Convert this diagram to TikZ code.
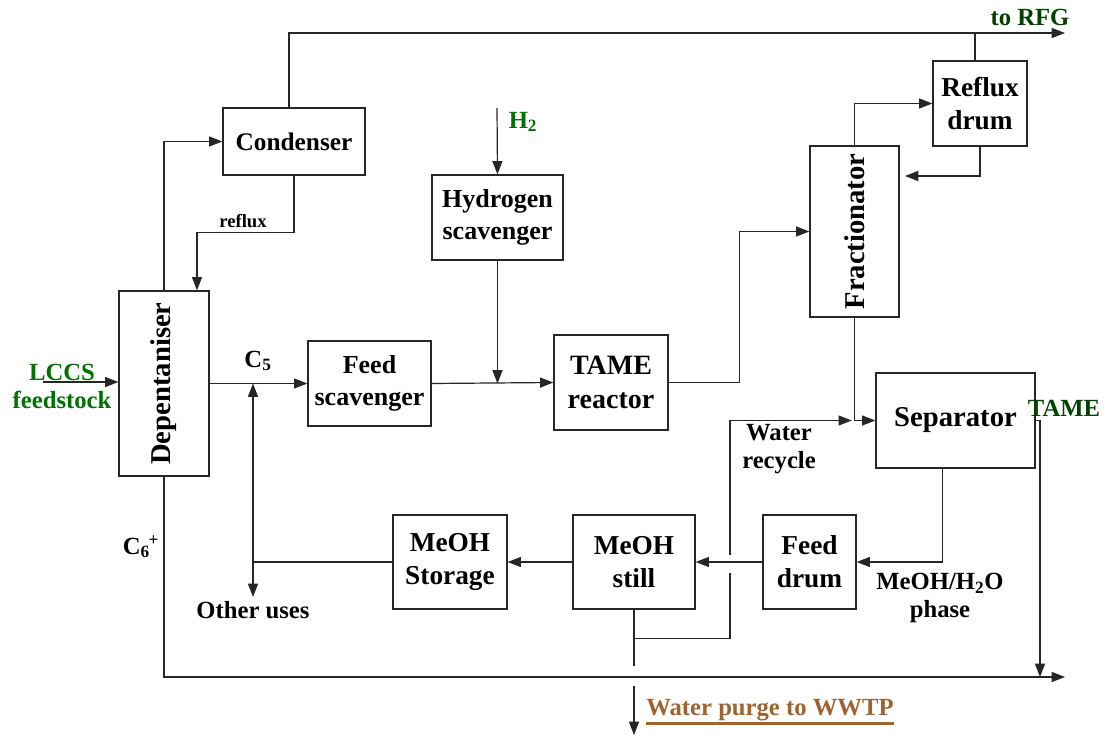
\documentclass[tikz,border=0pt]{standalone}
\usepackage{fontspec}
\setmainfont{Liberation Serif}
\usepackage{graphicx}
\usepackage{tikz}
\usetikzlibrary{arrows.meta}

\definecolor{feedgreen}{RGB}{0,112,0}
\definecolor{prodgreen}{RGB}{0,66,0}
\definecolor{purgebrown}{RGB}{158,100,48}
\newcommand{\thickul}[1]{\vtop{\hbox{#1}\kern1.2pt\hrule height 1.8pt}}

\begin{document}
\begin{tikzpicture}[x=0.75pt,y=0.75pt,yscale=-1,xscale=1,
	unit/.style={draw=black!85,line width=0.9pt,align=center,inner sep=0pt,font=\fontsize{20.5}{25}\selectfont\bfseries},
	column/.style={unit,font=\fontsize{21.5}{24.5}\selectfont\bfseries},
	lbl/.style={align=center,inner sep=0pt,font=\fontsize{18.5}{21}\selectfont\bfseries},
	small/.style={inner sep=0pt,font=\fontsize{14}{16}\selectfont\bfseries},
	flow/.style={line width=0.9pt,draw=black!85},
	arr/.style={flow,-{Triangle[length=10pt,width=7.5pt]}},
	darr/.style={flow,{Triangle[length=10pt,width=7.5pt]}-{Triangle[length=10pt,width=7.5pt]}}]
		\useasboundingbox (0,0) rectangle (1111,738);
		
		%Units
		\node[column,minimum width=67.5pt,minimum height=138.75pt] (dep) at (164,383.5) {\rotatebox{90}{Depentaniser}};
		\node[unit,minimum width=106.5pt,minimum height=50.25pt,font=\fontsize{19}{24}\selectfont\bfseries] (cond) at (294,141.5) {Condenser};
		\node[unit,minimum width=98.25pt,minimum height=63.75pt,font=\fontsize{19.5}{24.5}\selectfont\bfseries] (hscav) at (497.5,217.5) {Hydrogen\\scavenger};
		\node[unit,minimum width=92.25pt,minimum height=63.75pt,font=\fontsize{19.5}{24.5}\selectfont\bfseries] (fscav) at (369.5,383.5) {Feed\\scavenger};
		\node[unit,minimum width=85.5pt,minimum height=71.25pt,font=\fontsize{21}{25.5}\selectfont\bfseries] (reac) at (611,382.5) {TAME\\reactor};
		\node[column,minimum width=66.75pt,minimum height=128.25pt] (frac) at (854.5,231.5) {\rotatebox{90}{Fractionator}};
		\node[unit,minimum width=70.5pt,minimum height=63.75pt] (rdrum) at (980,103.5) {Reflux\\drum};
		\node[unit,minimum width=119.25pt,minimum height=71.25pt,font=\fontsize{21.5}{25}\selectfont\bfseries] (sep) at (955.5,420.5) {Separator};
		\node[unit,minimum width=69.75pt,minimum height=70.5pt] (fdrum) at (809.5,562) {Feed\\drum};
		\node[unit,minimum width=91.5pt,minimum height=70.5pt] (still) at (634,562) {MeOH\\still};
		\node[unit,minimum width=85.5pt,minimum height=70.5pt] (stor) at (450,562) {MeOH\\Storage};
		
		%Free ends
		\coordinate (rfg) at (1065,33);
		\coordinate (lccs) at (43,382);
		\coordinate (h2) at (497,108);
		\coordinate (c5) at (253,383.5);
		\coordinate (uses) at (253,597);
		\coordinate (ret) at (905,176);
		\coordinate (junc) at (854.5,420.5);
		\coordinate (tame) at (1040,677);
		\coordinate (wrtop) at (730,555);
		\coordinate (wrbot) at (730,573);
		\coordinate (gap) at (634,686);
		\coordinate (purge) at (634,735);
		\coordinate (prod) at (1065,677);
		
		%Overheads
		\draw[arr] ([xshift=-3.75pt]cond.north) |- (rfg);
		\draw[flow] ([xshift=-3.75pt]rdrum.north) -- ([xshift=-3.75pt]rdrum.north |- rfg);
		\draw[arr] (dep.north) |- (cond.west);
		\draw[arr] (cond.south) -- ++(0,57) -| ([xshift=24.75pt]dep.north);
		
		%Feed line
		\draw[arr] (lccs) -- (lccs -| dep.west);
		\draw[arr] (dep.east) -- (fscav.west);
		\draw[darr] (uses) -- (c5);
		\draw[flow] (stor.west) -- (stor.west -| c5);
		\draw[arr] (h2) -- (hscav.north);
		\draw[arr] (hscav.south) -- (hscav.south |- fscav.east);
		\draw[arr] (fscav.east) -- (reac.west);
		
		%Fractionation
		\draw[arr] (reac.east) -- ++(71,0) |- (frac.west);
		\draw[arr] (frac.north) |- (rdrum.west);
		\draw[arr] (rdrum.south) |- (ret);
		\draw[flow] (frac.south) -- (junc);
		\draw[arr] (junc) -- (sep.west);
		\draw[arr] (sep.east) -| (tame);
		
		%Methanol recovery
		\draw[arr] ([xshift=-10pt]sep.south) |- (fdrum.east);
		\draw[arr] (fdrum.west) -- (still.east);
		\draw[arr] (still.west) -- (stor.east);
		\draw[arr] (wrtop) |- ([xshift=-2pt]junc);
		\draw[flow] (still.south) -- ++(0,29) -| (wrbot);
		\draw[flow] (still.south) -- ++(0,56);
		\draw[arr] (gap) -- (purge);
		\draw[arr] (dep.south) |- (prod);
		
		% Text Node
		\node[lbl,text=prodgreen] (rfglbl) at (1030,17) {to RFG};
		% Text Node
		\node[lbl,text=feedgreen] (lccslbl) at (62,386) {LCCS\\feedstock};
		% Text Node
		\node[lbl,text=feedgreen] (h2lbl) at (523,122) {H\textsubscript{2}};
		% Text Node
		\node[lbl] (c5lbl) at (258,361) {C\textsubscript{5}};
		% Text Node
		\node[lbl] (c6lbl) at (141,547) {C\textsubscript{6}\kern-1pt\textsuperscript{+}};
		% Text Node
		\node[small] (refluxlbl) at (243,221) {reflux};
		% Text Node
		\node[lbl] (useslbl) at (253,610) {Other uses};
		% Text Node
		\node[lbl] (wrlbl) at (779,449) {Water\\recycle};
		% Text Node
		\node[lbl] (phaselbl) at (940,598) {MeOH/H\textsubscript{2}O\\phase};
		% Text Node
		\node[lbl,text=prodgreen] (tamelbl) at (1064,408) {TAME};
		% Text Node
		\node[lbl,text=purgebrown] (purgelbl) at (770,712) {\thickul{Water purge to WWTP}};
		
\end{tikzpicture}
\end{document}
